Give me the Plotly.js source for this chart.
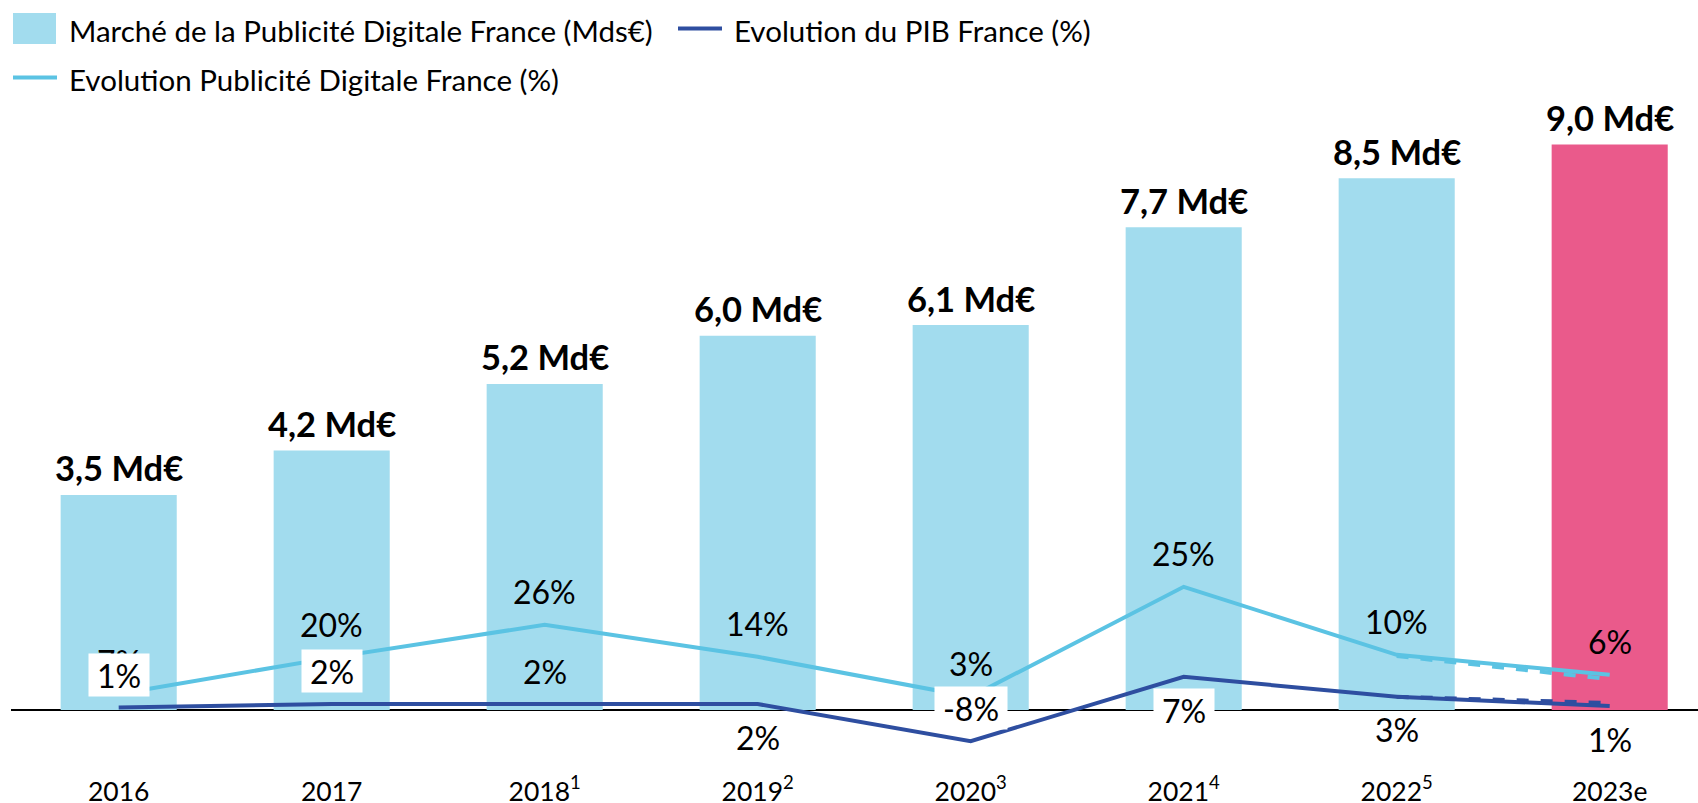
<!DOCTYPE html>
<html>
<head>
<meta charset="utf-8">
<script src="https://cdn.plot.ly/plotly-3.0.1.min.js"></script>
<style>
html,body{margin:0;padding:0;background:#fff;}
#chart{width:1698px;height:803px;}
</style>
</head>
<body>
<div id="chart"></div>
<script>
// ---------- DATA ----------
const years = ['2016','2017','2018','2019','2020','2021','2022','2023e'];
const yearTickLabels = ['2016','2017','2018<sup>1</sup>','2019<sup>2</sup>','2020<sup>3</sup>','2021<sup>4</sup>','2022<sup>5</sup>','2023e'];
const marketValues = [3.43, 4.14, 5.2, 5.97, 6.14, 7.7, 8.48, 9.02];
const marketLabels = ['3,5 Md€','4,2 Md€','5,2 Md€','6,0 Md€','6,1 Md€','7,7 Md€','8,5 Md€','9,0 Md€'];
const pubGrowthPlotted = [4.0, 13.1, 21.3, 13.3, 3.3, 30.8, 13.8, 8.8];
const pubGrowthDashed = [null, null, null, null, null, null, 13.5, 7.7];
const pubGrowthLabels = ['7%','20%','26%','14%','3%','25%','10%','6%'];
const pibPlotted = [0.6, 1.5, 1.5, 1.5, -7.8, 8.3, 3.3, 1.0];
const pibDashed = [null, null, null, null, null, null, 3.3, 1.75];
const pibLabels = ['1%','2%','2%','2%','-8%','7%','3%','1%'];
const legendNames = ['Marché de la Publicité Digitale France (Mds€)','Evolution du PIB France (%)','Evolution Publicité Digitale France (%)'];

// ---------- STYLE ----------
const BLUE_BAR = '#A2DCEE';
const PINK_BAR = '#EA5A8B';
const LIGHT_LINE = '#5BC3E3';
const DARK_LINE = '#2E4EA0';
const FONT = 'Lato, "Open Sans", sans-serif';

const W = 1698, H = 803;
const M = {l: 11, r: 0, t: 100, b: 30};
const PW = W - M.l - M.r, PH = H - M.t - M.b;
const px = x => (x - M.l) / PW;
const py = y => (H - M.b - y) / PH;

const traces = [
  {
    type: 'bar', x: years, y: marketValues, name: legendNames[0],
    marker: {color: years.map(y => y.endsWith('e') ? PINK_BAR : BLUE_BAR)},
    hoverinfo: 'skip', showlegend: false
  },
  {
    type: 'scatter', mode: 'lines', x: years, y: pubGrowthDashed, yaxis: 'y2',
    line: {color: LIGHT_LINE, width: 4, dash: 'dash'}, showlegend: false, hoverinfo: 'skip'
  },
  {
    type: 'scatter', mode: 'lines', x: years, y: pubGrowthPlotted, yaxis: 'y2', name: legendNames[2],
    line: {color: LIGHT_LINE, width: 4}, showlegend: false, hoverinfo: 'skip'
  },
  {
    type: 'scatter', mode: 'lines', x: years, y: pibDashed, yaxis: 'y2',
    line: {color: DARK_LINE, width: 4, dash: 'dash'}, showlegend: false, hoverinfo: 'skip'
  },
  {
    type: 'scatter', mode: 'lines', x: years, y: pibPlotted, yaxis: 'y2', name: legendNames[1],
    line: {color: DARK_LINE, width: 4}, showlegend: false, hoverinfo: 'skip'
  }
];

const annotations = [];
// bar value labels (x given as category index)
years.forEach((yr, i) => {
  annotations.push({
    x: i, y: marketValues[i], xref: 'x', yref: 'y', yshift: 27,
    text: '<b>' + marketLabels[i] + '</b>', showarrow: false,
    xanchor: 'center', yanchor: 'middle',
    font: {family: FONT, size: 34.5, color: '#000'}
  });
});
// digital ad growth labels (above line)
years.forEach((yr, i) => {
  annotations.push({
    x: i, y: pubGrowthPlotted[i], xref: 'x', yref: 'y2', yshift: 33,
    text: pubGrowthLabels[i], showarrow: false,
    xanchor: 'center', yanchor: 'middle',
    font: {family: FONT, size: 32, color: '#000'}
  });
});
// GDP labels
const pibSide = [1, 1, 1, -1, 1, -1, -1, -1];
const pibBoxed = [true, true, false, false, true, true, false, false];
years.forEach((yr, i) => {
  const a = {
    x: i, y: pibPlotted[i], xref: 'x', yref: 'y2', yshift: 33 * pibSide[i],
    text: pibLabels[i], showarrow: false,
    xanchor: 'center', yanchor: 'middle',
    font: {family: FONT, size: 32, color: '#000'}
  };
  if (pibBoxed[i]) { a.bgcolor = '#fff'; a.width = pibLabels[i].length > 2 ? 70 : 58; a.height = 40; }
  annotations.push(a);
});
// legend texts
annotations.push({xref: 'paper', yref: 'paper', x: px(67), y: py(31), xanchor: 'left', yanchor: 'middle',
  text: legendNames[0], showarrow: false, font: {family: FONT, size: 29.5, color: '#000'}});
annotations.push({xref: 'paper', yref: 'paper', x: px(732), y: py(31), xanchor: 'left', yanchor: 'middle',
  text: legendNames[1], showarrow: false, font: {family: FONT, size: 29.5, color: '#000'}});
annotations.push({xref: 'paper', yref: 'paper', x: px(67), y: py(79), xanchor: 'left', yanchor: 'middle',
  text: legendNames[2], showarrow: false, font: {family: FONT, size: 29.5, color: '#000'}});

const shapes = [
  {type: 'rect', xref: 'paper', yref: 'paper', x0: px(13), x1: px(56), y0: py(13), y1: py(44),
   fillcolor: BLUE_BAR, line: {width: 0}},
  {type: 'line', xref: 'paper', yref: 'paper', x0: px(678), x1: px(722), y0: py(28.5), y1: py(28.5),
   line: {color: DARK_LINE, width: 4}},
  {type: 'line', xref: 'paper', yref: 'paper', x0: px(13), x1: px(57), y0: py(77.5), y1: py(77.5),
   line: {color: LIGHT_LINE, width: 4}}
];

const layout = {
  width: W, height: H,
  margin: M,
  paper_bgcolor: '#fff', plot_bgcolor: '#fff',
  showlegend: false,
  bargap: 0.455,
  font: {family: FONT, color: '#000'},
  xaxis: {
    type: 'category', range: [-0.5056, 7.4146],
    tickvals: years, ticktext: yearTickLabels,
    tickfont: {family: FONT, size: 26.5, color: '#000'},
    showgrid: false, zeroline: false, showline: false, ticks: ''
  },
  yaxis: {
    range: [-1.0048, 9.729], showgrid: false, showticklabels: false, ticks: '',
    zeroline: true, zerolinecolor: '#000', zerolinewidth: 2, showline: false
  },
  yaxis2: {
    overlaying: 'y', range: [-15.75, 152.5], visible: false, showgrid: false, zeroline: false
  },
  annotations: annotations,
  shapes: shapes
};

Plotly.newPlot('chart', traces, layout, {staticPlot: true, displayModeBar: false});
</script>
</body>
</html>
